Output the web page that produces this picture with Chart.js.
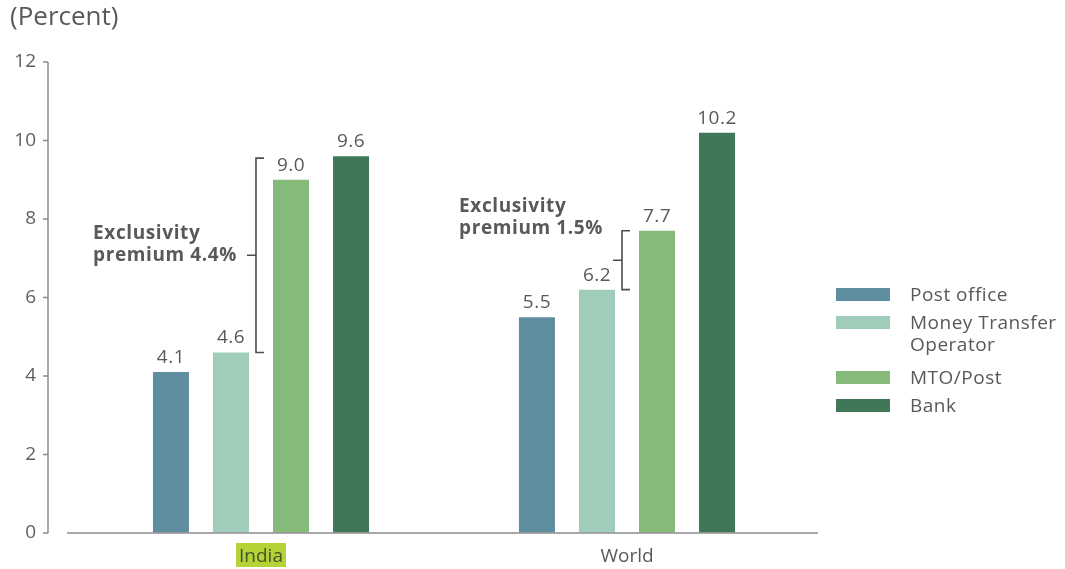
<!DOCTYPE html>
<html lang="en">
<head>
    <meta charset="UTF-8">
    <title>Exclusivity premium</title>
    <script src="https://cdn.jsdelivr.net/npm/chart.js"></script>
    <style>
        body {
            margin: 0;
            background: #fff;
            font-family: "Open Sans", sans-serif;
        }
        #wrap {
            position: relative;
            width: 1065px;
            height: 569px;
        }
        #legend {
            position: absolute;
            left: 836px;
            top: 283px;
            color: #595959;
            font-size: 19px;
            line-height: 22px;
            letter-spacing: 0.5px;
        }
        .item {
            display: flex;
            align-items: flex-start;
            margin-bottom: 6px;
        }
        .item.multi {
            margin-bottom: 11px;
        }
        .box {
            width: 54px;
            height: 13px;
            margin-top: 5px;
            margin-right: 20px;
            flex: none;
        }
        .txt {
            width: 155px;
        }
    </style>
</head>
<body>
    <div id="wrap">
        <canvas id="chart"></canvas>
        <div id="legend"></div>
    </div>

    <script>
        const categories = ['India', 'World'];
        const seriesNames = ['Post office', 'Money Transfer Operator', 'MTO/Post', 'Bank'];
        const postOffice = [4.1, 5.5];
        const moneyTransfer = [4.6, 6.2];
        const mtoPost = [9.0, 7.7];
        const bank = [9.6, 10.2];
        const seriesColors = ['#5f8ea1', '#9fcdb9', '#86ba7b', '#407857'];

        // exclusivity premium brackets (MTO -> MTO/Post)
        const premiumText = [['Exclusivity', 'premium 4.4%'], ['Exclusivity', 'premium 1.5%']];
        const premiumFrom = [4.6, 6.2];
        const premiumTo = [9.55, 7.7];

        const textColor = '#595959';
        const axisColor = '#8c8c8c';

        const series = [postOffice, moneyTransfer, mtoPost, bank];

        // html legend (multi-line label)
        const legend = document.getElementById('legend');
        seriesNames.forEach((name, i) => {
            const item = document.createElement('div');
            item.className = 'item';
            item.innerHTML = '<div class="box" style="background:' + seriesColors[i] + '"></div><div class="txt">' + name + '</div>';
            legend.appendChild(item);
            if (item.offsetHeight > 30) item.classList.add('multi');
        });

        const extras = {
            id: 'extras',
            beforeDraw(chart) {
                // highlight behind "India"
                const ctx = chart.ctx;
                const cx = chart.scales.x.getPixelForValue(0);
                ctx.save();
                ctx.font = '19px "Open Sans"';
                const w = ctx.measureText(categories[0]).width;
                ctx.fillStyle = '#b4d336';
                ctx.fillRect(cx - w / 2 - 3, chart.chartArea.bottom + 10, w + 6, 24);
                ctx.restore();
            },
            afterDatasetsDraw(chart) {
                const ctx = chart.ctx;
                const area = chart.chartArea;
                const y = chart.scales.y;
                ctx.save();

                // axes
                ctx.strokeStyle = axisColor;
                ctx.lineWidth = 1.5;
                const axX = area.left - 30;
                ctx.beginPath();
                ctx.moveTo(axX, area.top);
                ctx.lineTo(axX, area.bottom);
                y.ticks.forEach(t => {
                    const py = y.getPixelForValue(t.value);
                    ctx.moveTo(axX - 5, py);
                    ctx.lineTo(axX, py);
                });
                ctx.moveTo(area.left - 11, area.bottom);
                ctx.lineTo(area.right + 8, area.bottom);
                ctx.stroke();

                // value labels
                ctx.fillStyle = textColor;
                ctx.font = '19px "Open Sans"';
                ctx.letterSpacing = '0.5px';
                ctx.textAlign = 'center';
                ctx.textBaseline = 'alphabetic';
                chart.data.datasets.forEach((ds, di) => {
                    chart.getDatasetMeta(di).data.forEach((bar, i) => {
                        ctx.fillText(ds.data[i].toFixed(1), bar.x, bar.y - 9);
                    });
                });

                // brackets
                ctx.strokeStyle = '#4d4d4d';
                ctx.lineWidth = 1.6;
                ctx.font = 'bold 19px "Open Sans"';
                ctx.letterSpacing = '0.6px';
                ctx.textAlign = 'left';
                ctx.textBaseline = 'middle';
                premiumFrom.forEach((from, i) => {
                    const bar = chart.getDatasetMeta(1).data[i];
                    const bx = bar.x + bar.width / 2 + 7;
                    const y0 = y.getPixelForValue(from);
                    const y1 = y.getPixelForValue(premiumTo[i]);
                    const ym = (y0 + y1) / 2;
                    ctx.beginPath();
                    ctx.moveTo(bx + 8, y1);
                    ctx.lineTo(bx, y1);
                    ctx.lineTo(bx, y0);
                    ctx.lineTo(bx + 8, y0);
                    ctx.moveTo(bx - 9, ym);
                    ctx.lineTo(bx, ym);
                    ctx.stroke();

                    const lines = premiumText[i];
                    const w = Math.max(...lines.map(l => ctx.measureText(l).width));
                    const left = bx - 9 - 10 - w;
                    // India text sits on the middle tick, World text above the bracket
                    const base = i === 0 ? ym : y1 - 2;
                    ctx.fillText(lines[0], left, base - 22);
                    ctx.fillText(lines[1], left, base);
                });
                ctx.restore();
            }
        };

        const ctx = document.getElementById('chart').getContext('2d');
        new Chart(ctx, {
            type: 'bar',
            data: {
                labels: categories,
                datasets: series.map((d, i) => ({
                    label: seriesNames[i],
                    data: d,
                    backgroundColor: seriesColors[i],
                    borderWidth: 0,
                    categoryPercentage: 0.656,
                    barPercentage: 0.6
                }))
            },
            options: {
                responsive: true,
                maintainAspectRatio: false,
                animation: false,
                layout: {
                    padding: { left: 10, right: 255, top: 0, bottom: 0 }
                },
                plugins: {
                    legend: { display: false },
                    tooltip: { enabled: false },
                    title: {
                        display: true,
                        text: '(Percent)',
                        align: 'start',
                        color: textColor,
                        font: { family: '"Open Sans"', size: 26, weight: 'normal', lineHeight: 1.2 },
                        padding: { top: 2, bottom: 28.8 }
                    }
                },
                scales: {
                    x: {
                        grid: { display: false, drawTicks: false },
                        border: { display: false },
                        ticks: {
                            padding: 12,
                            color: c => c.index === 0 ? '#45532a' : textColor,
                            font: { family: '"Open Sans"', size: 19 }
                        },
                        afterFit: s => { s.height = 36; }
                    },
                    y: {
                        min: 0,
                        max: 12,
                        // invisible long ticks push the labels left of the drawn axis line
                        grid: { display: true, drawOnChartArea: false, drawTicks: true, tickLength: 38, color: 'rgba(0,0,0,0)' },
                        border: { display: false },
                        ticks: {
                            stepSize: 2,
                            padding: 4,
                            color: '#5f5f5f',
                            font: { family: '"Open Sans"', size: 19 }
                        },
                        afterFit: s => { s.width = 68; }
                    }
                }
            },
            plugins: [extras]
        });
    </script>
</body>
</html>
